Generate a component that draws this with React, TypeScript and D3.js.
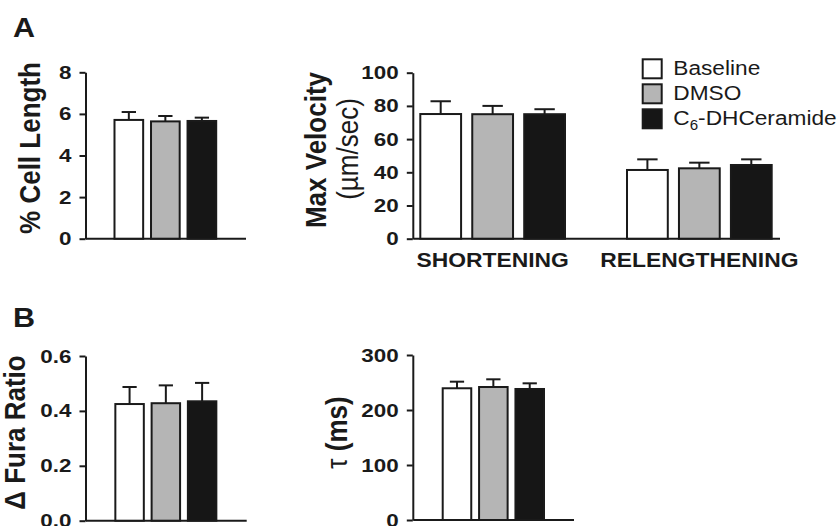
import React, { useEffect, useRef } from 'react';
import * as d3 from 'd3';

// treatment groups (legend order)
const groups = ['Baseline', 'DMSO', 'C6-DHCeramide'];
const groupFills = ['#ffffff', '#b5b5b5', '#161616'];

// A, left: % cell length
const cellLengthMean = [5.71, 5.64, 5.66];
const cellLengthErr = [0.38, 0.26, 0.16];
const cellLengthTicks = [0, 2, 4, 6, 8];

// A, right: max velocity
const velocityCategories = ['SHORTENING', 'RELENGTHENING'];
const shorteningMean = [75.1, 75.0, 75.0];
const shorteningErr = [7.7, 5.0, 3.0];
const relengtheningMean = [41.4, 42.4, 44.4];
const relengtheningErr = [6.4, 3.4, 3.4];
const velocityTicks = [0, 20, 40, 60, 80, 100];

// B, left: delta fura ratio
const furaMean = [0.425, 0.428, 0.435];
const furaErr = [0.062, 0.065, 0.067];
const furaTicks = [0, 0.2, 0.4, 0.6];

// B, right: tau
const tauMean = [239.5, 241.8, 238.2];
const tauErr = [12, 14, 10.3];
const tauTicks = [0, 100, 200, 300];

const FONT = '"Liberation Sans", Arial, Helvetica, sans-serif';
const INK = '#1a1a1a';

const App = () => {
  const svgRef = useRef<SVGSVGElement>(null);

  useEffect(() => {
    const svg = d3.select(svgRef.current);
    svg.selectAll('*').remove();

    const addText = (str: string, x: number, y: number, size: number, weight: string, anchor: string, sx: number, rotate = false) =>
      svg.append('text')
        .attr('transform', `translate(${x},${y}) scale(${sx},1)${rotate ? ' rotate(-90)' : ''}`)
        .attr('font-family', FONT)
        .attr('font-size', size)
        .attr('font-weight', weight)
        .attr('text-anchor', anchor)
        .attr('fill', INK)
        .text(str);

    const drawPanel = (p: any) => {
      const y = d3.scaleLinear().domain([0, d3.max(p.ticks) as number]).range([p.bottom, p.top]);
      const outer = d3.scaleBand().domain(p.categories).range(p.barRange).paddingInner(0.3);
      const inner = d3.scaleBand().domain(groups).range([0, outer.bandwidth()]).paddingInner(0.215);

      // x axis line
      svg.append('line')
        .attr('x1', p.axisX).attr('x2', p.axisRight)
        .attr('y1', y(0)).attr('y2', y(0))
        .attr('stroke', INK).attr('stroke-width', 2);

      // bars + error bars
      p.categories.forEach((cat: string, ci: number) => {
        groups.forEach((grp, gi) => {
          const m = p.means[ci][gi];
          const e = p.errs[ci][gi];
          const bx = (outer(cat) as number) + (inner(grp) as number);
          const cx = bx + inner.bandwidth() / 2;
          svg.append('line')
            .attr('x1', cx).attr('x2', cx)
            .attr('y1', y(m)).attr('y2', y(m + e))
            .attr('stroke', INK).attr('stroke-width', 2);
          svg.append('line')
            .attr('x1', cx - inner.bandwidth() / 4).attr('x2', cx + inner.bandwidth() / 4)
            .attr('y1', y(m + e)).attr('y2', y(m + e))
            .attr('stroke', INK).attr('stroke-width', 2);
          svg.append('rect')
            .attr('x', bx)
            .attr('y', y(m))
            .attr('width', inner.bandwidth())
            .attr('height', y(0) - y(m))
            .attr('fill', groupFills[gi])
            .attr('stroke', INK)
            .attr('stroke-width', 2);
        });
        if (cat) {
          addText(cat, (outer(cat) as number) + outer.bandwidth() / 2, p.catY, 21, 'bold', 'middle', 1.09);
        }
      });

      // y axis
      const axis = svg.append('g')
        .attr('transform', `translate(${p.axisX - 0.5},0)`)
        .call(d3.axisLeft(y).tickValues(p.ticks).tickSize(6).tickSizeOuter(0).tickPadding(6).tickFormat(p.fmt));
      axis.select('.domain').attr('stroke', INK).attr('stroke-width', 2);
      axis.selectAll('.tick line').attr('stroke', INK).attr('stroke-width', 2);
      axis.selectAll('.tick text')
        .attr('transform', 'scale(1.18,1)')
        .attr('font-family', FONT)
        .attr('font-size', 19)
        .attr('font-weight', 'bold')
        .attr('fill', INK);
    };

    drawPanel({
      categories: [''], means: [cellLengthMean], errs: [cellLengthErr], ticks: cellLengthTicks,
      fmt: d3.format('d'), top: 72.3, bottom: 238.7, axisX: 86, axisRight: 246, barRange: [92.7, 238]
    });
    drawPanel({
      categories: velocityCategories,
      means: [shorteningMean, relengtheningMean], errs: [shorteningErr, relengtheningErr],
      ticks: velocityTicks, fmt: d3.format('d'), top: 72.7, bottom: 238.7,
      axisX: 413.3, axisRight: 780, barRange: [420.3, 771.7], catY: 266.5
    });
    drawPanel({
      categories: [''], means: [furaMean], errs: [furaErr], ticks: furaTicks,
      fmt: d3.format('.1f'), top: 356, bottom: 520.7, axisX: 86, axisRight: 246.7, barRange: [93.7, 238]
    });
    drawPanel({
      categories: [''], means: [tauMean], errs: [tauErr], ticks: tauTicks,
      fmt: d3.format('d'), top: 355, bottom: 520, axisX: 413.3, axisRight: 574, barRange: [421, 565.7]
    });

    // panel letters
    addText('A', 13, 37, 28, 'bold', 'start', 1.09);
    addText('B', 13, 326.7, 28, 'bold', 'start', 1.09);

    // y axis titles
    addText('% Cell Length', 40, 148, 26, 'bold', 'middle', 1.1, true);
    addText('Max Velocity', 326, 150, 26, 'bold', 'middle', 1.1, true);
    addText('(\u00b5m/sec)', 358, 149, 26, 'normal', 'middle', 1.1, true);
    addText('\u0394 Fura Ratio', 25, 432.5, 26, 'bold', 'middle', 1.1, true);
    const tau = addText('', 347, 432.5, 26, 'bold', 'middle', 1.1, true);
    tau.append('tspan').attr('font-weight', 'normal').text('\u03c4');
    tau.append('tspan').text(' (ms)');

    // legend
    const legend = svg.append('g').attr('transform', 'translate(642.7,59.3)');
    groups.forEach((grp, i) => {
      legend.append('rect')
        .attr('x', 0).attr('y', i * 25)
        .attr('width', 19).attr('height', 19)
        .attr('fill', groupFills[i])
        .attr('stroke', INK).attr('stroke-width', 2);
      const t = legend.append('text')
        .attr('transform', `translate(30.6,${i * 25 + 16}) scale(1.08,1)`)
        .attr('font-family', FONT)
        .attr('font-size', 21)
        .attr('fill', INK);
      if (grp.startsWith('C6')) {
        t.append('tspan').text('C');
        t.append('tspan').attr('font-size', 14).attr('dy', 5).text('6');
        t.append('tspan').attr('dy', -5).text(grp.slice(2));
      } else {
        t.text(grp);
      }
    });
  }, []);

  return (
    <svg
      ref={svgRef}
      width={837}
      height={526}
      style={{ position: 'absolute', left: 0, top: 0, background: '#fff' }}
    />
  );
};

export default App;
